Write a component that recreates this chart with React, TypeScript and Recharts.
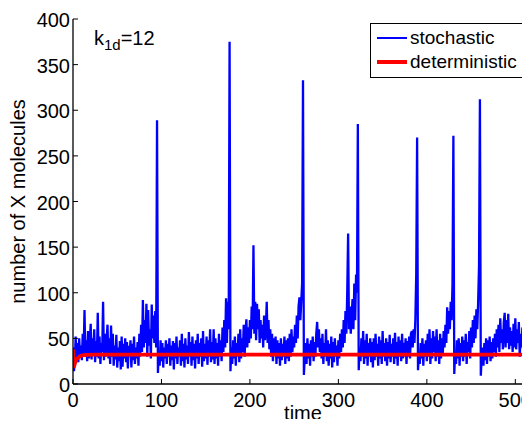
import { LineChart, Line, XAxis, YAxis } from 'recharts';

// stochastic trajectory, one value per time unit (t = 0..519)
const stochastic = [
  40, 14, 22, 52, 28, 45, 24, 50, 30, 42, 26, 55, 33, 81, 30, 48, 25, 58, 28, 46,
  66, 27, 50, 32, 60, 24, 47, 30, 78, 28, 52, 22, 45, 35, 90, 26, 55, 30, 48, 65,
  28, 50, 22, 64, 30, 55, 20, 42, 27, 54, 18, 40, 25, 47, 16, 52, 19, 44, 28, 50,
  24, 46, 17, 42, 30, 48, 18, 44, 26, 52, 22, 40, 28, 46, 20, 55, 30, 65, 35, 92,
  40, 70, 45, 88, 30, 81, 42, 60, 28, 87, 50, 75, 45, 80, 40, 289, 12, 35, 20, 48,
  25, 45, 18, 40, 28, 48, 22, 44, 30, 50, 20, 42, 26, 47, 16, 45, 28, 52, 22, 40,
  30, 48, 20, 55, 25, 44, 18, 50, 27, 42, 22, 57, 30, 46, 20, 52, 26, 44, 17, 48,
  28, 55, 22, 45, 30, 50, 19, 58, 25, 44, 28, 52, 21, 48, 30, 60, 24, 46, 27, 60,
  22, 50, 28, 45, 20, 55, 30, 48, 25, 62, 35, 70, 40, 94, 45, 90, 60, 375, 14, 40,
  22, 48, 28, 52, 20, 45, 30, 55, 24, 60, 28, 50, 35, 65, 30, 58, 71, 40, 62, 45,
  70, 50, 85, 60, 152, 55, 90, 48, 88, 60, 82, 45, 70, 50, 65, 40, 75, 48, 60, 90,
  45, 70, 38, 60, 30, 55, 25, 50, 32, 52, 22, 48, 28, 45, 20, 50, 26, 44, 30, 52,
  22, 48, 28, 50, 25, 55, 30, 60, 35, 52, 40, 65, 45, 75, 50, 85, 95, 70, 90, 110,
  333, 10, 30, 45, 22, 50, 28, 44, 20, 48, 30, 52, 25, 46, 30, 55, 68, 40, 60, 35,
  50, 28, 55, 22, 45, 30, 60, 25, 48, 20, 44, 28, 52, 18, 46, 24, 50, 30, 42, 20,
  48, 28, 55, 35, 60, 40, 70, 45, 80, 55, 100, 165, 60, 85, 55, 75, 93, 60, 110, 70,
  120, 100, 285, 15, 40, 25, 50, 30, 58, 22, 48, 28, 55, 20, 45, 30, 50, 24, 46, 18,
  50, 26, 55, 30, 44, 20, 52, 28, 48, 22, 58, 30, 45, 25, 50, 20, 46, 28, 54, 24,
  44, 30, 50, 22, 56, 28, 46, 20, 52, 30, 48, 25, 55, 28, 45, 30, 50, 22, 47, 30,
  52, 28, 55, 58, 40, 60, 45, 70, 120, 270, 15, 35, 22, 45, 28, 50, 20, 44, 30, 48,
  25, 55, 30, 60, 22, 50, 28, 58, 35, 52, 25, 60, 30, 48, 22, 55, 28, 50, 32, 58,
  40, 65, 45, 84, 55, 80, 60, 90, 70, 110, 272, 11, 35, 22, 48, 28, 50, 20, 45, 30,
  52, 25, 48, 30, 55, 22, 46, 35, 58, 28, 62, 40, 70, 45, 75, 50, 82, 60, 90, 130,
  312, 9, 30, 40, 20, 45, 26, 50, 22, 48, 30, 52, 25, 46, 28, 50, 35, 55, 30, 60,
  40, 65, 35, 72, 45, 60, 38, 68, 78, 40, 70, 45, 77, 38, 62, 42, 58, 35, 66, 40,
  72, 38, 60, 45, 68, 30, 55, 40, 62, 32, 58, 28, 50, 35, 60, 30, 52, 40, 64, 35,
];

// deterministic solution
const detTimes = [0, 0.3, 1, 2, 3, 4, 6, 8, 11, 15, 25, 520];
const detValues = [38, 20, 19, 22, 25, 27, 29, 30.5, 31.5, 32, 32.3, 32.3];

const xTicks = [0, 100, 200, 300, 400, 500];
const yTicks = [0, 50, 100, 150, 200, 250, 300, 350, 400];

const stochData = stochastic.map((v, i) => ({ t: i, x: v }));
const detData = detTimes.map((t, i) => ({ t, x: detValues[i] }));

const FONT = 'Liberation Sans, Arial, Helvetica, sans-serif';
const FS = 20;

const BottomTick = (props: any) => {
  const { x, y, payload } = props;
  return (
    <g>
      <line x1={x} x2={x} y1={y} y2={y - 5} stroke="#000" />
      <text x={x} y={y + 23} textAnchor="middle" fontSize={FS} fill="#000">
        {payload.value}
      </text>
    </g>
  );
};

const TopTick = (props: any) => {
  const { x, y } = props;
  return <line x1={x} x2={x} y1={y} y2={y + 5} stroke="#000" />;
};

const LeftTick = (props: any) => {
  const { x, y, payload } = props;
  return (
    <g>
      <line x1={x} x2={x + 5} y1={y} y2={y} stroke="#000" />
      <text x={x - 3} y={y + 8} textAnchor="end" fontSize={FS} fill="#000">
        {payload.value}
      </text>
    </g>
  );
};

export default function App() {
  return (
    <div
      style={{
        position: 'relative',
        width: 530,
        height: 427,
        overflow: 'hidden',
        margin: -8,
        background: '#fff',
        fontFamily: FONT,
      }}
    >
      <LineChart
        width={540}
        height={427}
        data={stochData}
        margin={{ top: 19, right: 7, bottom: 0, left: 0 }}
        style={{ fontFamily: FONT }}
      >
        <XAxis
          dataKey="t"
          type="number"
          domain={[0, 520]}
          ticks={xTicks}
          interval={0}
          allowDataOverflow
          height={43}
          tickSize={0}
          tickMargin={0}
          tickLine={false}
          tick={<BottomTick />}
          axisLine={{ stroke: '#000', strokeWidth: 1.3 }}
          label={{ value: 'time', position: 'insideBottom', offset: 7, fill: '#000', fontSize: FS }}
        />
        <XAxis
          xAxisId="top"
          orientation="top"
          type="number"
          domain={[0, 520]}
          ticks={xTicks}
          interval={0}
          height={0}
          tickSize={0}
          tickMargin={0}
          tickLine={false}
          tick={<TopTick />}
          axisLine={{ stroke: '#000', strokeWidth: 1.3 }}
        />
        <YAxis
          type="number"
          domain={[0, 400]}
          ticks={yTicks}
          interval={0}
          width={73}
          tickSize={0}
          tickMargin={0}
          tickLine={false}
          tick={<LeftTick />}
          axisLine={{ stroke: '#000', strokeWidth: 1.3 }}
          label={{
            value: 'number of X molecules',
            angle: -90,
            position: 'insideLeft',
            offset: 18,
            fill: '#000',
            fontSize: FS,
            style: { textAnchor: 'middle' },
          }}
        />
        <Line
          dataKey="x"
          type="linear"
          stroke="#0000ff"
          strokeWidth={2.3}
          dot={false}
          isAnimationActive={false}
          name="stochastic"
        />
        <Line
          data={detData}
          dataKey="x"
          type="monotone"
          stroke="#ff0000"
          strokeWidth={3.8}
          dot={false}
          isAnimationActive={false}
          name="deterministic"
        />
      </LineChart>

      <div
        style={{
          position: 'absolute',
          left: 94,
          top: 26,
          fontSize: FS,
          color: '#000',
          lineHeight: '24px',
        }}
      >
        k<sub style={{ fontSize: 15, verticalAlign: -5 }}>1d</sub>=12
      </div>

      <div
        style={{
          position: 'absolute',
          left: 370,
          top: 23,
          width: 180,
          border: '1px solid #000',
          background: '#fff',
          padding: '2px 0 3px 6px',
          fontSize: 19,
          lineHeight: '24px',
          color: '#000',
        }}
      >
        {[
          { label: 'stochastic', color: '#0000ff', w: 2 },
          { label: 'deterministic', color: '#ff0000', w: 4 },
        ].map((s) => (
          <div key={s.label} style={{ display: 'flex', alignItems: 'center' }}>
            <svg width={30} height={6} style={{ marginRight: 3 }}>
              <line x1={0} x2={30} y1={3} y2={3} stroke={s.color} strokeWidth={s.w} />
            </svg>
            <span>{s.label}</span>
          </div>
        ))}
      </div>
    </div>
  );
}
